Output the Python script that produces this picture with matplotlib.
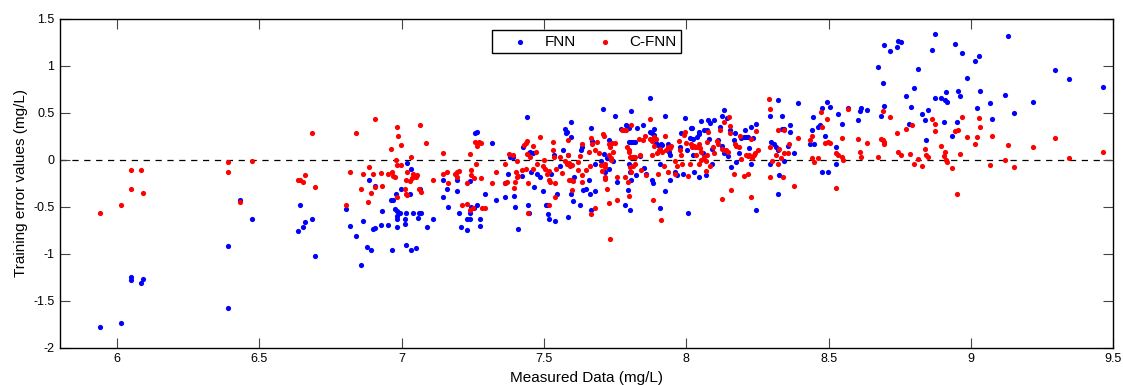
"""
Training error scatter: FNN vs C-FNN against measured data.
Values read off the reference figure by eye.
"""
import matplotlib
matplotlib.use("Agg")
import matplotlib.pyplot as plt

# ==================== DATA ====================

fnn_x = [
    6.049, 6.049, 6.090, 6.085, 6.014, 5.940,
    6.431, 6.473, 6.389, 6.389, 6.642, 6.684, 6.659, 6.652, 6.637, 6.695,
    7.019, 7.034, 6.885, 6.906, 6.998, 7.030, 6.981, 7.065, 6.962, 6.969,
    6.806, 6.930, 6.976, 6.984, 6.995, 7.016, 7.041, 7.062, 7.069, 6.984,
    6.984, 7.011, 7.056, 7.112, 6.866, 6.817, 6.927, 6.953, 7.011, 6.898,
    6.906, 6.984, 7.088, 6.841, 6.880, 6.892, 6.966, 7.016, 7.034, 7.051,
    6.859, 7.144, 7.158, 7.144, 7.162,
    7.193, 7.193, 7.201, 7.208, 7.228, 7.242, 7.230, 7.240, 7.245, 7.255,
    7.266, 7.240, 7.259, 7.266, 7.275, 7.277, 7.294, 7.316, 7.330, 7.364,
    7.364, 7.373, 7.380, 7.392, 7.395, 7.398, 7.409, 7.422, 7.427, 7.440,
    7.444, 7.446, 7.451, 7.460, 7.446, 7.456, 7.465, 7.477, 7.486, 7.498,
    7.506, 7.509, 7.514, 7.519, 7.538, 7.524, 7.535, 7.545, 7.556, 7.568,
    7.573, 7.578, 7.582, 7.586, 7.586, 7.594, 7.596, 7.594, 7.601, 7.606,
    7.657,
    7.632, 7.629, 7.636, 7.648, 7.627, 7.660, 7.664, 7.669, 7.678, 7.678,
    7.664, 7.700, 7.709, 7.711, 7.716, 7.721, 7.728, 7.730, 7.732, 7.742,
    7.751, 7.756, 7.772, 7.786, 7.789, 7.793, 7.800, 7.796, 7.798, 7.805,
    7.812, 7.819, 7.803, 7.800, 7.803, 7.805, 7.807, 7.824, 7.828, 7.838,
    7.849, 7.852, 7.857, 7.871, 7.873, 7.878, 7.878, 7.882, 7.887, 7.887,
    7.892, 7.899, 7.906, 7.908, 7.910, 7.913, 7.925, 7.925, 7.934, 7.939,
    7.943, 7.943, 7.960, 7.967, 7.978, 7.988, 7.983, 7.997, 8.004, 8.007,
    8.016, 8.021, 8.014, 8.023, 8.028, 8.025, 8.039, 8.044, 8.046, 8.046,
    8.051, 8.058, 8.063, 8.072, 8.070, 8.077, 8.079, 8.091,
    8.084, 8.091, 8.096, 8.112, 8.117, 8.124, 8.133, 8.143, 8.126, 8.133,
    8.147, 8.152, 8.157, 8.166, 8.171, 8.173, 8.185, 8.192, 8.201, 8.208,
    8.218, 8.206, 8.220, 8.227, 8.227, 8.234, 8.244, 8.246, 8.295, 8.297,
    8.307, 8.316, 8.323, 8.295, 8.321, 8.321, 8.326, 8.335, 8.342, 8.337,
    8.342, 8.356, 8.363, 8.363, 8.377, 8.391, 8.436, 8.450, 8.443, 8.445,
    8.462, 8.469, 8.476, 8.478, 8.487, 8.494, 8.499, 8.506, 8.527, 8.527,
    8.532,
    8.548, 8.569, 8.602, 8.609, 8.614, 8.635, 8.673, 8.684, 8.691, 8.694,
    8.696, 8.717, 8.741, 8.745, 8.755, 8.773, 8.783, 8.790, 8.799, 8.813,
    8.827, 8.839, 8.842, 8.849, 8.863, 8.874, 8.874, 8.895, 8.905, 8.912,
    8.910, 8.914, 8.935, 8.945, 8.952, 8.954, 8.963, 8.970, 8.987, 9.013,
    9.020, 9.029, 9.031,
    9.066, 9.074, 9.120, 9.130, 9.151, 9.219, 9.294, 9.343, 9.465,
]
fnn_y = [
    -1.248, -1.277, -1.266, -1.309, -1.741, -1.784,
    -0.426, -0.631, -0.922, -1.578, -0.489, -0.631, -0.663, -0.716, -0.759, -1.028,
    -0.039, -0.099, -0.220, -0.277, -0.309, -0.362, -0.362, -0.309, -0.426, -0.426,
    -0.528, -0.553, -0.525, -0.553, -0.574, -0.564, -0.574, -0.564, -0.564, -0.599,
    -0.631, -0.631, -0.621, -0.631, -0.649, -0.706, -0.695, -0.695, -0.684, -0.738,
    -0.727, -0.716, -0.716, -0.812, -0.929, -0.965, -0.965, -0.911, -0.965, -0.943,
    -1.117, -0.220, -0.319, -0.394, -0.504,
    -0.220, -0.340, -0.574, -0.716, -0.631, -0.631, -0.752, -0.574, -0.504, -0.521,
    -0.486, -0.230, 0.277, 0.298, -0.635, -0.709, -0.362, 0.177, -0.426, -0.404,
    -0.255, -0.149, 0.028, 0.028, -0.383, -0.504, -0.738, -0.177, 0.128, 0.447,
    -0.479, 0.064, 0.085, 0.071, -0.574, -0.135, -0.291, -0.149, -0.184, -0.340,
    -0.479, -0.479, -0.582, -0.631, -0.652, -0.149, 0.043, -0.362, -0.071, 0.106,
    0.326, 0.277, 0.291, 0.050, -0.610, 0.241, 0.404, -0.362, -0.440, -0.184,
    -0.213,
    0.135, 0.099, -0.326, -0.319, -0.479, -0.362, 0.340, 0.199, -0.050, -0.340,
    -0.539, -0.014, 0.539, 0.057, -0.135, 0.014, 0.206, -0.106, 0.163, -0.014,
    0.468, -0.234, 0.326, -0.489, 0.362, 0.355, 0.340, -0.326, 0.191, 0.191,
    0.191, 0.191, -0.532, -0.043, -0.128, 0.518, -0.213, -0.170, 0.340, 0.035,
    0.362, -0.092, -0.149, 0.652, 0.291, 0.277, -0.213, -0.255, 0.326, 0.262,
    0.177, 0.156, -0.043, -0.511, 0.170, 0.156, 0.468, -0.340, 0.170, 0.085,
    0.043, -0.213, -0.135, -0.170, 0.135, -0.149, 0.277, 0.440, 0.106, -0.574,
    0.333, 0.340, 0.227, 0.213, -0.135, 0.043, 0.241, 0.270, 0.298, -0.184,
    0.411, 0.064, 0.312, 0.319, -0.163, 0.418, 0.213, 0.113,
    0.390, -0.050, 0.418, 0.206, 0.348, 0.461, 0.532, 0.440, 0.149, 0.064,
    0.035, 0.319, -0.078, 0.206, 0.284, -0.028, 0.071, 0.234, 0.241, 0.241,
    0.241, 0.319, 0.121, 0.348, -0.043, 0.227, -0.532, 0.376, 0.468, 0.184,
    0.163, 0.135, 0.106, -0.043, 0.631, -0.369, -0.163, 0.326, 0.326, 0.461,
    -0.014, 0.142, 0.362, 0.298, 0.071, 0.596, 0.163, 0.170, 0.319, 0.447,
    0.348, 0.362, 0.553, -0.135, 0.255, 0.610, -0.128, 0.560, 0.135, -0.050,
    0.489,
    0.376, 0.553, 0.418, 0.511, 0.553, 0.525, 0.979, 0.468, 0.816, 1.213,
    0.567, 1.156, 1.199, 1.262, 1.255, 0.681, 0.383, 0.560, 0.759, 0.965,
    0.482, 0.418, 0.206, 0.525, 1.170, 1.340, 0.652, 0.652, 0.404, 0.723,
    0.631, 0.610, 0.255, 1.234, 0.404, 0.730, 0.681, 1.135, 0.865, 1.043,
    0.546, 1.106, 0.730,
    0.596, 0.426, 0.684, 1.319, 0.500, 0.610, 0.954, 0.858, 0.770,
]

cfnn_x = [
    6.049, 6.085, 6.049, 6.090, 6.014, 5.940,
    6.684, 6.389, 6.473, 6.389, 6.431, 6.637, 6.643, 6.659, 6.652, 6.695,
    6.906, 6.841, 6.984, 6.988, 7.065, 6.998, 6.962, 7.086, 7.144, 7.034,
    6.980, 6.984, 6.998, 6.885, 6.817, 6.866, 6.898, 6.927, 6.953, 6.967,
    6.969, 6.977, 7.019, 7.041, 7.055, 7.016, 7.030, 7.036, 7.051, 7.112,
    7.144, 7.158, 7.162, 6.859, 6.906, 6.930, 6.892, 7.012, 7.015, 7.019,
    6.984, 7.062, 7.069, 6.881, 6.806,
    7.187, 7.193, 7.196, 7.202, 7.230, 7.240, 7.245, 7.245, 7.255, 7.257,
    7.273, 7.266, 7.279, 7.263, 7.279, 7.316, 7.330, 7.211, 7.230, 7.242,
    7.252, 7.281, 7.294, 7.364, 7.364, 7.371, 7.378, 7.392, 7.395, 7.398,
    7.402, 7.404, 7.410, 7.404, 7.422, 7.430, 7.437, 7.441, 7.437, 7.444,
    7.444, 7.441, 7.451, 7.463, 7.463, 7.472, 7.477, 7.486, 7.498, 7.504,
    7.501, 7.510, 7.517, 7.519, 7.521, 7.517, 7.533, 7.533, 7.535, 7.542,
    7.540, 7.538, 7.556, 7.565, 7.574, 7.580, 7.587, 7.586, 7.586, 7.592,
    7.597, 7.587, 7.594, 7.603, 7.599, 7.620, 7.620,
    7.627, 7.633, 7.633, 7.632, 7.647, 7.657, 7.662, 7.664, 7.668, 7.666,
    7.678, 7.678, 7.688, 7.692, 7.702, 7.704, 7.709, 7.711, 7.715, 7.716,
    7.714, 7.714, 7.723, 7.728, 7.730, 7.732, 7.739, 7.730, 7.735, 7.737,
    7.742, 7.732, 7.749, 7.756, 7.758, 7.775, 7.782, 7.789, 7.786, 7.793,
    7.798, 7.800, 7.796, 7.800, 7.803, 7.803, 7.805, 7.807, 7.810, 7.817,
    7.821, 7.812, 7.821, 7.835, 7.838, 7.842, 7.849, 7.854, 7.857, 7.871,
    7.873, 7.878, 7.878, 7.882, 7.885, 7.887, 7.892, 7.896, 7.899, 7.904,
    7.908, 7.915, 7.910, 7.920, 7.925, 7.927, 7.934, 7.936, 7.943, 7.948,
    7.960, 7.962, 7.969, 7.976, 7.978, 7.983, 7.986, 7.993, 7.997, 8.000,
    8.007, 8.014, 8.016, 8.021, 8.028, 8.032, 8.035, 8.039, 8.044, 8.049,
    8.046, 8.051, 8.051, 8.061, 8.068, 8.070, 8.072, 8.075, 8.072,
    8.084, 8.094, 8.096, 8.108, 8.112, 8.117, 8.124, 8.131, 8.131, 8.138,
    8.145, 8.150, 8.152, 8.154, 8.157, 8.126, 8.166, 8.171, 8.176, 8.185,
    8.187, 8.192, 8.201, 8.208, 8.215, 8.220, 8.218, 8.227, 8.227, 8.232,
    8.239, 8.241, 8.246, 8.253, 8.290, 8.295, 8.295, 8.295, 8.302, 8.314,
    8.321, 8.321, 8.326, 8.333, 8.340, 8.344, 8.342, 8.356, 8.361, 8.377,
    8.391, 8.436, 8.440, 8.443, 8.450, 8.462, 8.473, 8.476, 8.494, 8.487,
    8.497, 8.504, 8.527, 8.534, 8.527,
    8.546, 8.546, 8.551, 8.569, 8.602, 8.609, 8.614, 8.635, 8.673, 8.684,
    8.691, 8.696, 8.696, 8.691, 8.717, 8.741, 8.745, 8.755, 8.773, 8.785,
    8.792, 8.799, 8.813, 8.827, 8.837, 8.842, 8.849, 8.863, 8.874, 8.874,
    8.895, 8.905, 8.910, 8.912, 8.914, 8.933, 8.945, 8.954, 8.952, 8.961,
    8.970, 8.987, 9.013, 9.020, 9.029, 9.031,
    9.066, 9.074, 9.120, 9.130, 9.151, 9.219, 9.294, 9.343, 9.465,
]
cfnn_y = [
    -0.113, -0.113, -0.319, -0.351, -0.489, -0.574,
    0.277, -0.028, -0.014, -0.135, -0.457, -0.220, -0.213, -0.167, -0.234, -0.294,
    0.436, 0.287, 0.351, 0.255, 0.372, 0.156, 0.113, 0.177, 0.071, 0.028,
    -0.007, -0.060, -0.060, -0.078, -0.135, -0.156, -0.156, -0.145, -0.156, -0.135,
    -0.174, -0.191, -0.128, -0.149, -0.163, -0.213, -0.227, -0.202, -0.191, -0.213,
    -0.149, -0.135, -0.255, -0.309, -0.294, -0.284, -0.351, -0.319, -0.369, -0.379,
    -0.394, -0.309, -0.344, -0.457, -0.489,
    -0.149, -0.184, -0.131, -0.121, -0.248, 0.057, -0.113, -0.167, -0.202, 0.188,
    0.184, 0.142, 0.177, -0.043, -0.202, -0.248, -0.135, -0.486, -0.468, -0.532,
    -0.514, -0.518, -0.514, -0.043, -0.248, -0.241, 0.057, 0.043, -0.305, -0.234,
    -0.128, -0.184, -0.177, -0.014, -0.113, 0.152, 0.177, 0.199, -0.099, -0.255,
    -0.574, 0.057, 0.028, 0.142, -0.106, 0.078, -0.050, 0.241, -0.071, -0.106,
    -0.007, -0.149, -0.121, -0.213, -0.241, -0.479, 0.191, 0.099, 0.028, -0.099,
    -0.255, -0.397, 0.028, -0.142, -0.014, -0.050, -0.035, 0.206, 0.043, -0.067,
    -0.060, -0.220, -0.220, -0.230, -0.326, -0.113, -0.025,
    0.035, 0.170, -0.167, -0.234, -0.113, 0.078, -0.071, 0.234, 0.163, -0.582,
    -0.511, 0.106, 0.191, 0.071, -0.060, -0.121, 0.270, 0.248, -0.043, -0.078,
    -0.184, -0.206, -0.309, 0.043, 0.170, 0.135, 0.177, -0.461, 0.021, 0.000,
    0.078, -0.848, 0.177, -0.426, -0.184, 0.312, 0.319, 0.319, -0.184, 0.135,
    0.078, 0.099, -0.241, -0.383, 0.028, -0.078, -0.128, 0.362, 0.028, 0.028,
    0.028, -0.064, -0.050, 0.220, 0.043, -0.113, 0.206, 0.255, -0.163, 0.433,
    0.213, 0.199, 0.043, -0.426, 0.241, 0.142, 0.213, 0.064, -0.149, 0.099,
    0.113, 0.085, -0.645, -0.071, 0.255, 0.106, -0.135, 0.135, 0.121, 0.142,
    -0.021, -0.156, -0.071, 0.199, 0.099, 0.050, -0.050, 0.262, 0.291, 0.177,
    -0.177, -0.043, 0.170, 0.128, 0.149, 0.128, 0.043, 0.128, 0.163, 0.121,
    -0.043, 0.000, 0.085, 0.028, -0.014, -0.121, 0.191, 0.291, 0.050,
    -0.064, 0.135, 0.064, 0.199, 0.170, 0.312, 0.113, 0.404, 0.099, 0.099,
    0.085, 0.447, 0.355, 0.277, -0.326, -0.415, -0.149, 0.170, 0.149, 0.135,
    0.248, 0.007, -0.177, 0.043, 0.035, 0.050, -0.156, 0.213, -0.404, 0.021,
    0.043, 0.064, 0.305, 0.099, 0.645, 0.539, 0.135, -0.191, -0.021, 0.043,
    -0.050, 0.312, 0.113, 0.014, -0.191, 0.319, 0.064, 0.071, 0.163, -0.284,
    0.234, 0.206, 0.255, 0.014, -0.028, 0.014, 0.504, 0.348, 0.433, 0.177,
    0.184, 0.177, 0.064, 0.043, -0.298,
    0.234, 0.028, -0.007, 0.539, 0.213, 0.078, 0.028, 0.177, 0.028, 0.220,
    0.206, 0.184, 0.163, 0.511, 0.447, 0.284, 0.078, 0.050, 0.326, 0.057,
    0.362, -0.043, 0.007, -0.071, 0.113, 0.050, 0.028, 0.426, 0.383, 0.305,
    0.142, 0.035, 0.078, 0.000, -0.028, -0.092, 0.305, 0.319, -0.362, 0.057,
    0.454, 0.241, 0.170, 0.241, 0.440, 0.348,
    -0.060, 0.255, -0.007, 0.156, -0.078, 0.135, 0.234, 0.014, 0.078,
]

x_ticks = [6, 6.5, 7, 7.5, 8, 8.5, 9, 9.5]
x_tick_labels = ['6', '6.5', '7', '7.5', '8', '8.5', '9', '9.5']
y_ticks = [-2, -1.5, -1, -0.5, 0, 0.5, 1, 1.5]
y_tick_labels = ['-2', '-1.5', '-1', '-0.5', '0', '0.5', '1', '1.5']

# ==================== PLOT ====================

plt.rcParams['font.family'] = ['Liberation Sans', 'DejaVu Sans']
plt.rcParams['axes.unicode_minus'] = False

fig = plt.figure(figsize=(11.23, 3.85), dpi=100)
ax = fig.add_axes([0.0534, 0.0974, 0.938, 0.8545])

# zero reference line
ax.axhline(0, color='black', linewidth=0.9, linestyle=(0, (5, 4.5)), zorder=1)

ax.scatter(fnn_x, fnn_y, s=14, color='#0000ff', linewidths=0, label='FNN', zorder=2)
ax.scatter(cfnn_x, cfnn_y, s=14, color='#ff0000', linewidths=0, label='C-FNN', zorder=3)

ax.set_xlim(5.8, 9.5)
ax.set_ylim(-2, 1.5)
ax.set_xticks(x_ticks)
ax.set_xticklabels(x_tick_labels)
ax.set_yticks(y_ticks)
ax.set_yticklabels(y_tick_labels)
ax.tick_params(direction='in', length=7, width=0.8, color='#444444',
               top=True, right=True, labelsize=9, pad=4)
for sp in ax.spines.values():
    sp.set_linewidth(1.0)

ax.set_xlabel('Measured Data (mg/L)', fontsize=11, labelpad=4)
ax.set_ylabel('Training error values (mg/L)', fontsize=11, labelpad=4)

leg = ax.legend(loc='upper center', ncol=2, fontsize=11, frameon=True,
                fancybox=False, edgecolor='black', framealpha=1,
                borderpad=0.3, handlelength=3.0, handletextpad=0.1,
                columnspacing=0.4, borderaxespad=0.75, scatterpoints=1)
leg.get_frame().set_linewidth(1.0)

fig.savefig('out.png', dpi=100)
